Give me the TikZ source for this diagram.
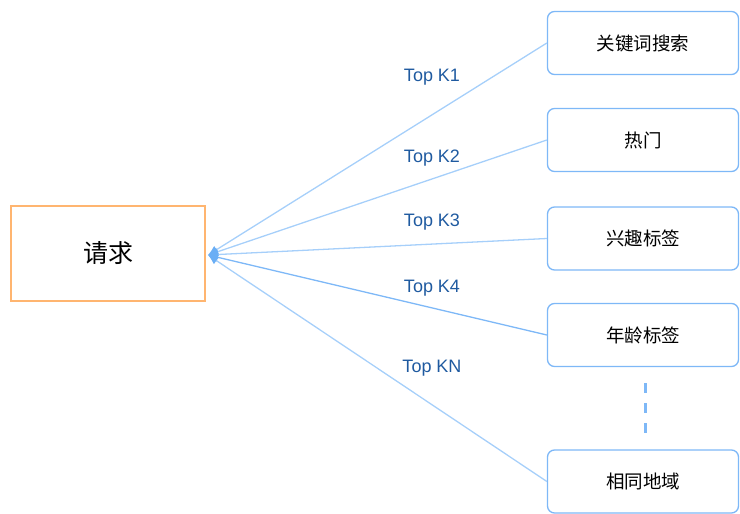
\documentclass[tikz,border=0pt]{standalone}
\usepackage{fontspec}
\setmainfont{Liberation Sans}
\newfontfamily\cjk{Noto Sans CJK SC}
\usetikzlibrary{arrows.meta}
\definecolor{reqorange}{HTML}{FFB570}
\definecolor{boxblue}{HTML}{7EB8F7}
\definecolor{lineblue}{HTML}{A6CFFA}
\definecolor{tipblue}{HTML}{6AAEF5}
\definecolor{labelblue}{HTML}{1F5AA0}
\tikzset{
  reqbox/.style={draw=reqorange, line width=2.5pt, fill=white, minimum width=194pt, minimum height=95pt, inner sep=0pt, font=\cjk\fontsize{25}{30}\selectfont},
  catbox/.style={draw=boxblue, line width=1.3pt, rounded corners=7pt, fill=white, minimum width=191pt, minimum height=63pt, inner sep=0pt, font=\cjk\fontsize{18.5}{22}\selectfont},
  conn/.style={draw=lineblue, line width=1.3pt, -{Latex[length=10pt,width=9pt,color=tipblue]}},
  klabel/.style={text=labelblue, font=\fontsize{18}{21}\selectfont, inner sep=0pt}
}
\begin{document}
\begin{tikzpicture}[x=1pt,y=-1pt]
\useasboundingbox (0,0) rectangle (740,514);
\node[reqbox] (req) at (108,253.5) {请求};
\node[catbox] (c1) at (643,43) {关键词搜索};
\node[catbox] (c2) at (643,140) {热门};
\node[catbox] (c3) at (643,238.5) {兴趣标签};
\node[catbox] (c4) at (643,335) {年龄标签};
\node[catbox] (c5) at (643,481.5) {相同地域};
\coordinate (hub) at (208,255);
\draw[conn] (c1.west) -- (hub);
\draw[conn] (c2.west) -- (hub);
\draw[conn] (c3.west) -- (hub);
\draw[conn, draw=boxblue] (c4.west) -- (hub);
\draw[conn] (c5.west) -- (hub);
\coordinate (d1) at (645,383);
\coordinate (d2) at (645,433);
\draw[boxblue, line width=3pt, dash pattern=on 10pt off 10pt] (d1) -- (d2);
\node[klabel] (k1) at (432,77) {Top K1};
\node[klabel] (k2) at (432,158) {Top K2};
\node[klabel] (k3) at (432,222) {Top K3};
\node[klabel] (k4) at (432,288) {Top K4};
\node[klabel] (k5) at (432,368) {Top KN};
\end{tikzpicture}
\end{document}
